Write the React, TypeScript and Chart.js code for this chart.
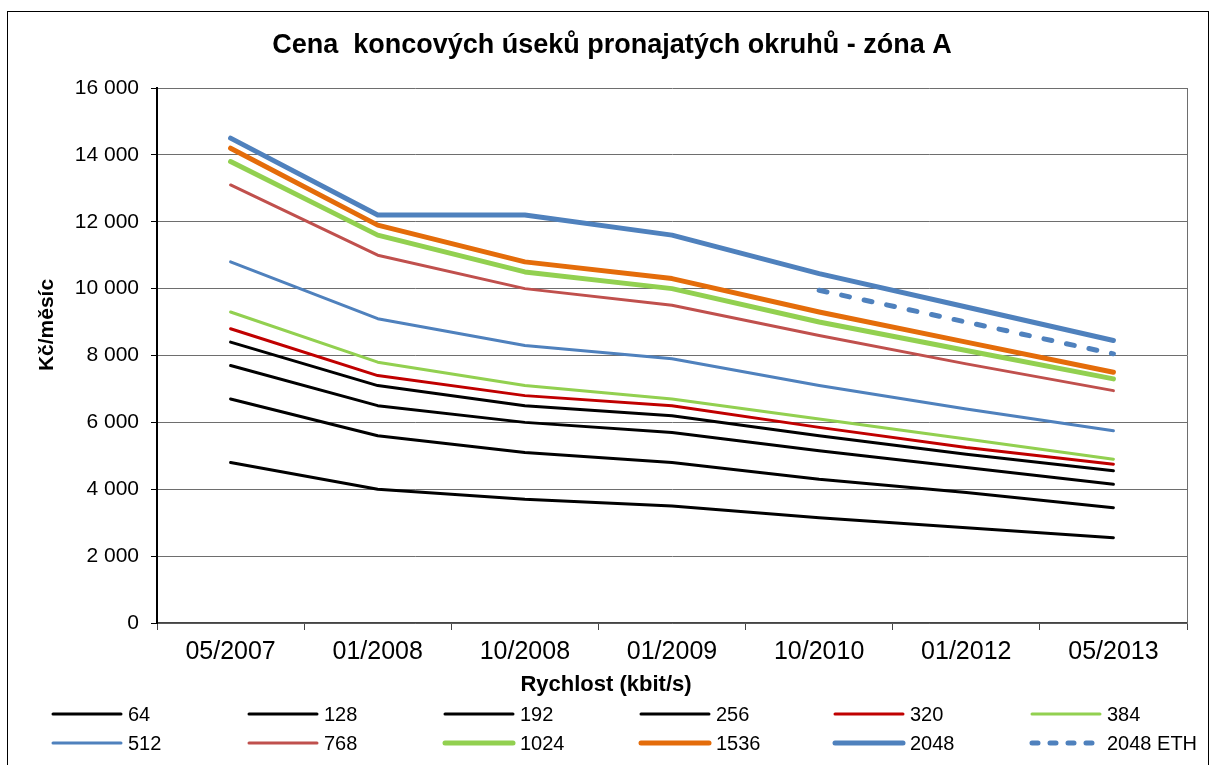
import React, { useEffect, useRef } from "react";
import { Chart, registerables } from "chart.js";

Chart.register(...registerables);

const FONT = '"Liberation Sans", Arial, sans-serif';

const titleText = "Cena  koncových úseků pronajatých okruhů - zóna A";
const yTitle = "Kč/měsíc";
const xTitle = "Rychlost (kbit/s)";

const categories = ["05/2007", "01/2008", "10/2008", "01/2009", "10/2010", "01/2012", "05/2013"];

const s64 = [4800, 4000, 3700, 3500, 3150, 2850, 2550];
const s128 = [6700, 5600, 5100, 4800, 4300, 3900, 3450];
const s192 = [7700, 6500, 6000, 5700, 5150, 4650, 4150];
const s256 = [8400, 7100, 6500, 6200, 5600, 5050, 4550];
const s320 = [8800, 7400, 6800, 6500, 5850, 5250, 4750];
const s384 = [9300, 7800, 7100, 6700, 6100, 5500, 4900];
const s512 = [10800, 9100, 8300, 7900, 7100, 6400, 5750];
const s768 = [13100, 11000, 10000, 9500, 8600, 7750, 6950];
const s1024 = [13800, 11600, 10500, 10000, 9000, 8150, 7300];
const s1536 = [14200, 11900, 10800, 10300, 9300, 8400, 7500];
const s2048 = [14500, 12200, 12200, 11600, 10450, 9450, 8450];
const s2048eth = [null, null, null, null, 9950, 9000, 8050];

const seriesLabels = ["64", "128", "192", "256", "320", "384", "512", "768", "1024", "1536", "2048", "2048 ETH"];
const seriesData = [s64, s128, s192, s256, s320, s384, s512, s768, s1024, s1536, s2048, s2048eth];
const seriesColors = ["#000000", "#000000", "#000000", "#000000", "#C00000", "#92D050", "#4F81BD", "#C0504D", "#92D050", "#E46C0A", "#4F81BD", "#4F81BD"];
const seriesWidths = [3, 3, 3, 3, 3, 3, 3, 3, 5, 5, 5, 5];
const seriesDashed = [false, false, false, false, false, false, false, false, false, false, false, true];

const yMin = 0;
const yMax = 16000;
const yStep = 2000;

const legendCols = [53, 249, 445, 641, 835, 1032];
const legendRows = [714, 743];

function fmt(v: number) {
  return String(v).replace(/\B(?=(\d{3})+(?!\d))/g, " ");
}

const decor = {
  id: "decor",
  afterDraw(chart: any) {
    const ctx = chart.ctx;
    const ca = chart.chartArea;
    ctx.save();
    // frame
    ctx.strokeStyle = "#000";
    ctx.lineWidth = 1;
    ctx.strokeRect(7.5, 11.5, 1201, 800);
    // right plot border
    ctx.strokeStyle = "#6e6e6e";
    ctx.beginPath();
    ctx.moveTo(Math.round(ca.right) + 0.5, ca.top);
    ctx.lineTo(Math.round(ca.right) + 0.5, ca.bottom);
    ctx.stroke();
    // title
    ctx.fillStyle = "#000";
    ctx.textAlign = "center";
    ctx.textBaseline = "middle";
    ctx.font = `bold 27px ${FONT}`;
    ctx.fillText(titleText, 612, 46);
    // x title
    ctx.font = `bold 22px ${FONT}`;
    ctx.fillText(xTitle, 606, 685);
    // y title
    ctx.save();
    ctx.translate(47, 325);
    ctx.rotate(-Math.PI / 2);
    ctx.font = `bold 21px ${FONT}`;
    ctx.fillText(yTitle, 0, 0);
    ctx.restore();
    // legend
    ctx.font = `20px ${FONT}`;
    ctx.textAlign = "left";
    chart.data.datasets.forEach((ds: any, i: number) => {
      const col = i % 6;
      const row = Math.floor(i / 6);
      const x = legendCols[col];
      const y = legendRows[row];
      ctx.save();
      ctx.strokeStyle = ds.borderColor;
      ctx.lineWidth = ds.borderWidth;
      ctx.lineCap = "round";
      if (ds.borderDash && ds.borderDash.length) ctx.setLineDash([6, 12]);
      ctx.beginPath();
      ctx.moveTo(x, y);
      ctx.lineTo(x + 68, y);
      ctx.stroke();
      ctx.restore();
      ctx.fillStyle = "#000";
      ctx.fillText(ds.label, x + 75, y + 1);
    });
    ctx.restore();
  },
};

export default function App() {
  const ref = useRef<HTMLCanvasElement>(null);
  useEffect(() => {
    if (!ref.current) return;
    const chart = new Chart(ref.current, {
      type: "line",
      data: {
        labels: categories,
        datasets: seriesData.map((d, i) => ({
          label: seriesLabels[i],
          data: d,
          borderColor: seriesColors[i],
          backgroundColor: seriesColors[i],
          borderWidth: seriesWidths[i],
          borderDash: seriesDashed[i] ? [8, 15] : [],
          borderCapStyle: "round",
          borderJoinStyle: "round",
          pointRadius: 0,
          tension: 0,
          fill: false,
          spanGaps: false,
          order: i,
        })),
      },
      options: {
        animation: false,
        responsive: false,
        events: [],
        layout: { padding: { left: 0, top: 88, right: 26, bottom: 0 } },
        plugins: { legend: { display: false }, title: { display: false }, tooltip: { enabled: false } },
        scales: {
          x: {
            offset: true,
            grid: { display: true, drawOnChartArea: false, drawTicks: true, tickLength: 7, color: "#444", offset: true },
            border: { display: true, color: "#444", width: 1.5 },
            ticks: { color: "#000", font: { family: FONT, size: 25 }, padding: 7, maxRotation: 0, autoSkip: false },
            afterFit: (s: any) => {
              s.height = 142;
            },
          },
          y: {
            min: yMin,
            max: yMax,
            grid: { color: "#6e6e6e", lineWidth: 1, tickLength: 6, tickColor: "#000" },
            border: { display: true, color: "#000", width: 2 },
            ticks: { stepSize: yStep, color: "#000", font: { family: FONT, size: 21 }, padding: 12, callback: (v: any) => fmt(Number(v)) },
            afterFit: (s: any) => {
              s.width = 157;
            },
          },
        },
      },
      plugins: [decor],
    } as any);
    return () => chart.destroy();
  }, []);
  return (
    <div style={{ position: "fixed", left: 0, top: 0, width: 1213, height: 765, background: "#fff" }}>
      <canvas ref={ref} width={1213} height={765} style={{ display: "block", width: 1213, height: 765 }} />
    </div>
  );
}
